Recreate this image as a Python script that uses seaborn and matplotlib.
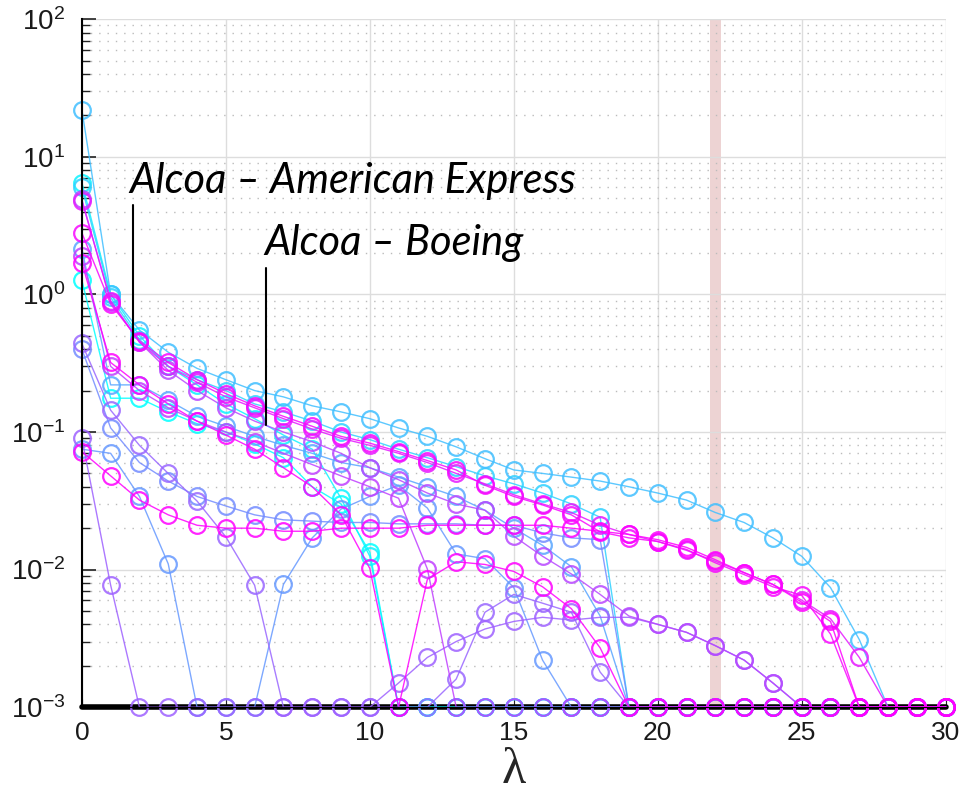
import numpy as np
import matplotlib
matplotlib.use("Agg")
import matplotlib.pyplot as plt
import seaborn as sns
import pandas as pd

# lambda index 0..30 (0 = below floor, drawn at 1e-3)
lam = list(range(31))
floor = 1e-3

s_a = [22, 1.0, 0.55, 0.38, 0.29, 0.24, 0.2, 0.18, 0.155, 0.14, 0.125, 0.107, 0.093, 0.078, 0.064, 0.053,
       0.05, 0.047, 0.044, 0.04, 0.036, 0.032, 0.026, 0.022, 0.017, 0.0125, 0.0074, 0.0031, 0, 0, 0]
s_b = [6.5, 1.0, 0.5, 0.3, 0.22, 0.16, 0.125, 0.095, 0.075, 0.033, 0.0125] + [0] * 20
s_c = [6.0, 0.95, 0.47, 0.3, 0.24, 0.2, 0.16, 0.14, 0.12, 0.1, 0.088, 0.075, 0.065, 0.056, 0.048, 0.042,
       0.036, 0.03, 0.024] + [0] * 12
s_d = [4.8, 0.9, 0.45, 0.3, 0.23, 0.18, 0.15, 0.125, 0.105, 0.09, 0.08, 0.07, 0.06, 0.05, 0.042, 0.035,
       0.03, 0.026, 0.021, 0.018, 0.016, 0.0138, 0.0115, 0.0095, 0.0078, 0.006, 0.0044, 0.0023, 0, 0, 0]
s_e = [2.8, 0.85, 0.46, 0.32, 0.24, 0.19, 0.155, 0.13, 0.11, 0.093, 0.083, 0.072, 0.062, 0.053, 0.041, 0.034,
       0.0295, 0.025, 0.0188, 0.017, 0.016, 0.014, 0.0112, 0.0092, 0.0075, 0.0065, 0.0034, 0, 0, 0, 0]
s_f = [2.15, 0.22, 0.22, 0.17, 0.13, 0.11, 0.093, 0.08, 0.07, 0.06, 0.055, 0.047, 0.04, 0.034, 0.027, 0.02,
       0.015, 0.0105, 0.0046] + [0] * 12
s_g = [1.7, 0.32, 0.22, 0.16, 0.12, 0.095, 0.075, 0.055, 0.04, 0.025, 0.0102, 0, 0.0085, 0.0114, 0.0109,
       0.0097, 0.0075, 0.0052, 0.0027] + [0] * 12
s_h = [1.27, 0.176, 0.176, 0.14, 0.115, 0.1, 0.082, 0.065, 0.04, 0.03, 0.0134] + [0] * 20
s_n = [4.9, 0.88, 0.45, 0.28, 0.2, 0.15, 0.12, 0.1, 0.085, 0.07, 0.055, 0.045, 0.036, 0.03, 0.027, 0.0175,
       0.0125, 0.0093, 0.0066, 0.0046, 0.004, 0.0035, 0.0028, 0.0022, 0.0015, 0, 0, 0, 0, 0, 0]
s_o = [1.9, 0.3, 0.2, 0.15, 0.12, 0.1, 0.085, 0.07, 0.058, 0.048, 0.04, 0.033, 0.0101] + [0] * 18
s_i = [0.44, 0.144, 0.08, 0.05, 0.0315, 0.0173, 0.0077, 0, 0, 0, 0, 0, 0, 0.0016, 0.0049, 0.0066,
       0.0057, 0.0049, 0.0018] + [0] * 12
s_j = [0.4, 0.107, 0.06, 0.044, 0.034, 0.029, 0.025, 0.023, 0.0225, 0.022, 0.022, 0.0215, 0.0215, 0.0215,
       0.021, 0.021, 0.0185, 0.017, 0.0165] + [0] * 12
s_k = [0.09, 0.0077, 0, 0, 0, 0, 0, 0, 0, 0, 0, 0.0015, 0.0023, 0.003, 0.0037, 0.0042, 0.0045, 0.0043,
       0.0045, 0.0045, 0.004, 0.0035, 0.0028, 0.0022, 0.0015, 0, 0, 0, 0, 0, 0]
s_l = [0.075, 0.07, 0.034, 0.011, 0, 0, 0, 0.0078, 0.017, 0.0275, 0.034, 0.041, 0.028, 0.013, 0.012,
       0.0074, 0.0022] + [0] * 14
s_m = [0.072, 0.048, 0.032, 0.025, 0.021, 0.02, 0.02, 0.019, 0.019, 0.02, 0.02, 0.02, 0.021, 0.021, 0.021,
       0.021, 0.021, 0.02, 0.019, 0.018, 0.0165, 0.0145, 0.0118, 0.0095, 0.0078, 0.0058, 0.0042, 0, 0, 0, 0]

series = {"a": s_a, "b": s_b, "c": s_c, "d": s_d, "e": s_e, "f": s_f, "g": s_g, "h": s_h,
          "n": s_n, "o": s_o, "i": s_i, "j": s_j, "k": s_k, "l": s_l, "m": s_m}
# position on the 'cool' colormap (cyan -> magenta)
cpos = {"a": 0.25, "b": 0.05, "c": 0.18, "d": 0.9, "e": 0.97, "f": 0.35, "g": 1.0, "h": 0.0,
        "n": 0.72, "o": 0.75, "i": 0.6, "j": 0.45, "k": 0.62, "l": 0.4, "m": 1.0}

labels = ["Alcoa \u2013 American Express", "Alcoa \u2013 Boeing"]

# cyan first, magenta last (drawn on top)
order = sorted(series, key=lambda k: cpos[k])
rows = []
for name in order:
    for x, v in zip(lam, series[name]):
        rows.append({"lam": x, "val": max(v, floor), "pair": name})
df = pd.DataFrame(rows)

cmap = plt.get_cmap("cool")
pal = {k: cmap(t) for k, t in cpos.items()}

sns.set_style("white")
plt.rcParams["font.family"] = ["Liberation Sans", "DejaVu Sans"]
plt.rcParams["mathtext.fontset"] = "custom"
plt.rcParams["mathtext.rm"] = "Liberation Sans"
plt.rcParams["text.color"] = "black"

fig = plt.figure(figsize=(9.63, 8), dpi=100)
ax = fig.add_axes([0.085, 0.116, 0.897, 0.86])

ax.axvspan(21.8, 22.2, color="#edd3d3", zorder=0.5, lw=0)
ax.plot(lam, [floor] * len(lam), color="black", lw=4, clip_on=False, zorder=1)

sns.lineplot(data=df, x="lam", y="val", hue="pair", hue_order=order, palette=pal,
             estimator=None, sort=False, marker="o", markersize=12, markerfacecolor="none",
             markeredgewidth=1.6, lw=1.0, alpha=0.85, legend=False, ax=ax, zorder=2)
for line in ax.lines[1:]:
    line.set_markeredgecolor(line.get_color())
    line.set_clip_on(False)

ax.set_yscale("log")
ax.set_ylim(1e-3, 1e2)
ax.set_xlim(0, 30)
ax.set_xticks(range(0, 31, 5))
ax.grid(True, which="major", color="#dddddd", lw=1.0)
ax.grid(True, which="minor", axis="y", color="#bbbbbb", lw=1.0, ls=(0, (1, 5)))
ax.tick_params(axis="both", which="both", direction="in", labelsize=20,
               color="#222222", labelcolor="#1a1a1a", left=True, bottom=True)
ax.tick_params(axis="y", which="major", length=10, width=1.2, pad=12)
ax.tick_params(axis="y", which="minor", length=6, width=1.0)
ax.tick_params(axis="x", which="major", length=6, pad=10, labelsize=19)
ax.tick_params(axis="x", which="minor", bottom=False)
for side in ["top", "right"]:
    ax.spines[side].set_visible(False)
ax.spines["left"].set_color("black")
ax.spines["left"].set_linewidth(1.5)
ax.spines["bottom"].set_color("black")
ax.set_xlabel("\u03bb", fontsize=36, family="Liberation Serif", labelpad=2)
ax.set_ylabel("")

# annotations
ax.text(1.66, 5.5, labels[0], fontsize=30, fontstyle="italic", family="Lato", color="black")
ax.plot([1.76, 1.76], [4.45, 0.22], color="black", lw=1.5)
ax.text(6.33, 1.93, labels[1], fontsize=30, fontstyle="italic", family="Lato", color="black")
ax.plot([6.39, 6.39], [1.55, 0.112], color="black", lw=1.5)

fig.savefig("out.png", dpi=100)
